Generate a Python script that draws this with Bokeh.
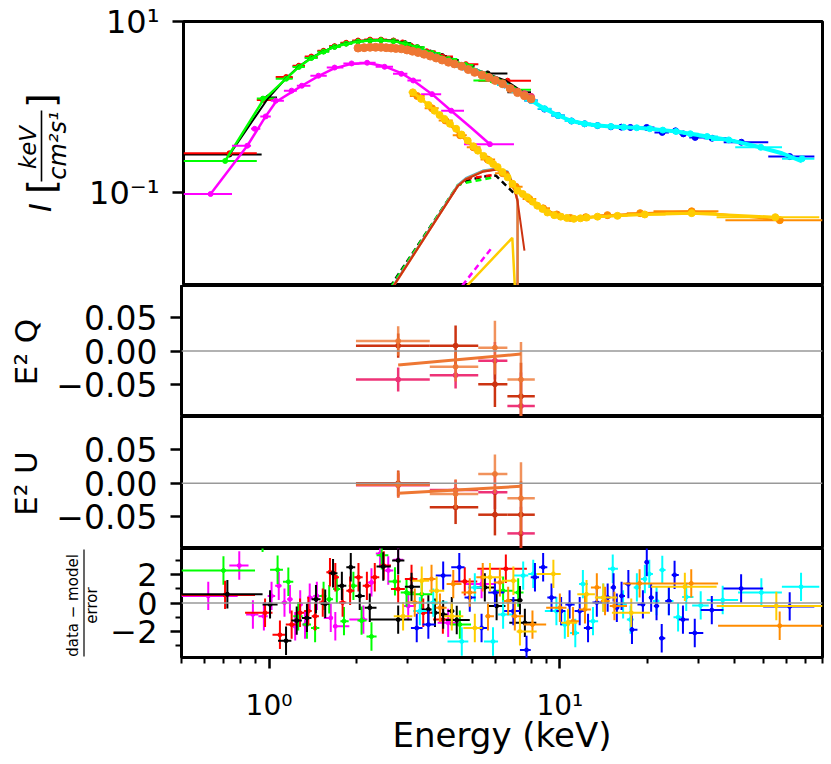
import numpy as np
from math import pi
from bokeh.plotting import figure
from bokeh.layouts import column, row
from bokeh.models import Range1d, FixedTicker, CustomJSTickFormatter, Span
from bokeh.core.properties import value
from bokeh.embed import file_html
from bokeh.resources import INLINE

FONT = "DejaVu Sans"

# ---------------- spectrum panel data ----------------
E_blk = [0.72, 0.98, 1.13, 1.25, 1.38, 1.52, 1.66, 1.82, 2.0, 2.2, 2.4, 2.65, 2.9, 3.2, 3.55, 3.9, 4.2, 4.7, 5.6, 7.3]
I_blk = [0.28, 1.3, 2.2, 3.0, 3.8, 4.5, 5.1, 5.55, 5.9, 6.05, 6.1, 5.95, 5.6, 5.0, 4.35, 3.95, 3.55, 3.05, 2.48, 1.49]
edges_blk = [0.5, 0.93, 1.05, 1.19, 1.31, 1.45, 1.59, 1.74, 1.91, 2.1, 2.3, 2.52, 2.77, 3.05, 3.37, 3.72, 4.05, 4.45, 5.05, 6.55, 7.9]

E_red = [0.72, 0.94, 1.13, 1.25, 1.38, 1.52, 1.66, 1.82, 2.0, 2.2, 2.4, 2.65, 2.85, 3.05, 3.45, 3.9, 4.71, 6.56]
I_red = [0.29, 1.21, 2.25, 3.05, 3.9, 4.55, 5.15, 5.65, 6.0, 6.15, 6.15, 6.0, 5.7, 5.2, 4.5, 3.9, 3.18, 2.04]
edges_red = [0.5, 0.895, 1.04, 1.19, 1.31, 1.45, 1.59, 1.74, 1.91, 2.1, 2.3, 2.52, 2.75, 2.95, 3.25, 3.7, 4.25, 5.2, 7.9]

E_grn = [0.696, 0.94, 1.13, 1.25, 1.38, 1.52, 1.66, 1.82, 2.0, 2.2, 2.4, 2.65, 2.9, 3.2, 3.6, 4.1, 4.7, 5.8, 7.0]
I_grn = [0.236, 1.26, 2.15, 2.95, 3.75, 4.45, 5.05, 5.5, 5.85, 6.0, 6.05, 5.9, 5.55, 5.0, 4.3, 3.65, 3.1, 2.05, 1.6]
edges_grn = [0.5, 0.895, 1.04, 1.19, 1.31, 1.45, 1.59, 1.74, 1.91, 2.1, 2.3, 2.52, 2.77, 3.05, 3.4, 3.85, 4.4, 5.0, 6.5, 7.9]

E_mod_blk = [0.72, 0.98, 1.13, 1.25, 1.38, 1.52, 1.66, 1.82, 2.0, 2.2, 2.4, 2.65, 2.9, 3.2, 3.55, 3.9, 4.2, 4.7, 5.6, 6.5, 7.3, 7.9]
I_mod_blk = [0.28, 1.28, 2.18, 2.98, 3.78, 4.48, 5.08, 5.55, 5.9, 6.05, 6.08, 5.95, 5.6, 5.0, 4.38, 3.92, 3.55, 3.05, 2.45, 2.02, 1.55, 1.3]
E_mod_grn = [0.696, 0.94, 1.13, 1.25, 1.38, 1.52, 1.66, 1.82, 2.0, 2.2, 2.4, 2.65, 2.9, 3.2, 3.6, 4.1, 4.7, 5.8, 7.0, 7.9]
I_mod_grn = [0.236, 1.2, 2.15, 2.95, 3.75, 4.45, 5.05, 5.5, 5.85, 6.0, 6.05, 5.9, 5.55, 5.0, 4.3, 3.65, 3.1, 2.3, 1.65, 1.35]

E_mag = [0.62, 0.83, 0.88, 0.96, 1.04, 1.18, 1.28, 1.46, 1.66, 1.9, 2.15, 2.47, 2.82, 3.1, 3.6, 4.19, 5.7]
I_mag = [0.097, 0.355, 0.56, 0.78, 1.19, 1.56, 1.78, 2.33, 2.9, 3.24, 3.3, 2.96, 2.45, 2.05, 1.42, 0.91, 0.37]
edges_mag = [0.5, 0.735, 0.855, 0.92, 1.0, 1.11, 1.23, 1.37, 1.56, 1.78, 2.02, 2.3, 2.64, 2.96, 3.3, 3.87, 4.64, 6.9]
E_mag_line = [0.62, 0.83, 0.96, 1.04, 1.18, 1.28, 1.46, 1.66, 1.9, 2.15, 2.47, 2.82, 3.1, 3.6, 4.19, 4.9, 5.7]
I_mag_line = [0.097, 0.355, 0.78, 1.15, 1.5, 1.78, 2.3, 2.85, 3.2, 3.28, 3.0, 2.5, 2.05, 1.42, 0.91, 0.58, 0.37]

E_ix = [2.0, 2.1, 2.2, 2.3, 2.4, 2.5, 2.6, 2.7, 2.82, 2.95, 3.08, 3.22, 3.38, 3.55, 3.72, 3.9, 4.1, 4.3, 4.55, 4.8,
        5.05, 5.35, 5.65, 5.95, 6.3, 6.7, 7.1, 7.5, 7.9]
I_ix = [4.9, 4.95, 5.0, 5.0, 5.0, 4.95, 4.9, 4.85, 4.8, 4.65, 4.5, 4.35, 4.15, 3.95, 3.75, 3.55, 3.35, 3.2, 3.0, 2.75,
        2.55, 2.38, 2.22, 2.05, 1.88, 1.65, 1.48, 1.36, 1.25]
E_ix3 = [7.1, 7.5, 7.9]
I_ix3 = [1.52, 1.42, 1.32]

E_nuA = [3.3, 3.7, 4.1, 4.6, 5.1, 5.7, 6.4, 7.1, 7.9, 8.8, 9.8, 10.9, 12.1, 13.4, 14.9, 16.2, 17.4, 19.8, 22.4, 24.9,
         26.5, 29.1, 33.3, 42.0, 61.7]
I_nuA = [4.3, 3.85, 3.4, 2.95, 2.6, 2.2, 1.82, 1.5, 1.2, 0.95, 0.8, 0.69, 0.64, 0.61, 0.59, 0.585, 0.58, 0.58, 0.508, 0.53,
         0.488, 0.444, 0.434, 0.39, 0.265]
wide_nuA = {23: (36.5, 52.0), 24: (52.0, 75.0)}

E_nuB = [3.3, 3.7, 4.1, 4.6, 5.1, 5.7, 6.4, 7.1, 7.9, 8.8, 9.8, 10.9, 12.1, 13.4, 14.9, 16.5, 18.3, 20.3, 22.5, 25.0,
         28.0, 32.0, 38.0, 49.0, 68.0]
I_nuB = [4.3, 3.85, 3.4, 2.95, 2.6, 2.2, 1.82, 1.5, 1.2, 0.96, 0.8, 0.69, 0.64, 0.61, 0.595, 0.585, 0.575, 0.56, 0.54, 0.52,
         0.49, 0.455, 0.415, 0.34, 0.25]
wide_nuB = {22: (33.0, 40.0), 23: (40.0, 58.0), 24: (58.0, 75.0)}
E_nuB_mod = [3.3, 3.7, 4.1, 4.6, 5.1, 5.7, 6.4, 7.1, 7.9, 8.8, 9.8, 10.9, 12.1, 13.4, 14.9, 16.5, 18.3, 20.3, 22.5, 25.0,
             28.0, 32.0, 38.0, 48.0, 58.0, 68.0]
I_nuB_mod = [4.3, 3.85, 3.4, 2.95, 2.6, 2.2, 1.82, 1.5, 1.2, 0.96, 0.8, 0.69, 0.64, 0.61, 0.595, 0.585, 0.575, 0.56, 0.54, 0.52,
             0.49, 0.455, 0.415, 0.345, 0.29, 0.233]

E_gold = [3.09, 3.3, 3.5, 3.67, 3.82, 3.97, 4.15, 4.36, 4.55, 4.78, 5.0, 5.18, 5.42, 5.67, 5.85, 6.06, 6.3, 6.56, 6.82, 7.1,
          7.4, 7.68, 8.0, 8.3, 8.65, 9.0, 9.5, 10.0, 10.5, 11.1, 11.7, 12.3, 13.4, 15.7, 19.5, 28.3, 55.0]
I_gold = [1.49, 1.25, 1.06, 0.91, 0.81, 0.73, 0.64, 0.56, 0.48, 0.407, 0.35, 0.311, 0.27, 0.238, 0.218, 0.2, 0.175, 0.152, 0.128, 0.106,
          0.097, 0.089, 0.079, 0.071, 0.065, 0.059, 0.055, 0.0528, 0.051, 0.0498, 0.0505, 0.0515, 0.0528, 0.054, 0.056, 0.058, 0.052]
wide_gold = {33: (14.5, 17.0), 34: (17.0, 23.0), 35: (23.0, 34.5), 36: (34.5, 78.0)}

E_org = [3.2, 3.6, 4.0, 4.5, 5.0, 5.6, 6.3, 7.0, 7.8, 8.7, 9.7, 10.8, 12.2, 14.5, 18.8, 28.3, 57.0]
I_org = [1.35, 0.97, 0.7, 0.47, 0.34, 0.245, 0.17, 0.118, 0.085, 0.066, 0.056, 0.051, 0.052, 0.055, 0.058, 0.061, 0.048]
wide_org = {14: (16.9, 20.9), 15: (20.9, 35.0), 16: (37.0, 80.0)}

# model components
hump_E_or = [2.64, 4.42, 4.71, 5.38, 5.98, 6.56, 6.92, 7.1, 7.1]
hump_I_or = [0.008, 0.1216, 0.1456, 0.1786, 0.1887, 0.174, 0.1127, 0.0812, 0.005]
hump_I_cy = [0.0082, 0.124, 0.149, 0.182, 0.193, 0.178, 0.115, 0.083, 0.005]
hump_E_rd = [2.64, 4.42, 4.71, 5.38, 5.98, 6.56, 6.92, 7.1, 7.5]
hump_I_rd = [0.008, 0.12, 0.144, 0.176, 0.186, 0.172, 0.112, 0.08, 0.0212]
hump_E_bk = [2.58, 4.42, 4.8, 5.4, 5.98, 6.92]
hump_I_bk = [0.008, 0.122, 0.14, 0.155, 0.159, 0.098]
hump_E_gn = [2.6, 4.42, 4.71, 5.9]
hump_I_gn = [0.008, 0.124, 0.1316, 0.152]
hump_E_rdd = [4.71, 5.9]
hump_I_rdd = [0.146, 0.162]
edge_E_mg = [4.58, 5.75]
edge_I_mg = [0.0083, 0.0223]
edge_E_yl = [4.76, 6.81, 7.0]
edge_I_yl = [0.0083, 0.0299, 0.005]

# ---------------- polarisation panels ----------------
qu_E = [2.78, 4.38, 5.98, 7.35]
qu_lo = [1.99, 3.57, 5.24, 6.6]
qu_hi = [3.57, 5.24, 6.6, 8.2]
Q_du1 = [0.015, -0.0235, 0.005, -0.0425]
Qerr_du1 = [0.022, 0.022, 0.04, 0.056]
Q_du2 = [0.008, 0.008, -0.0495, -0.0675]
Qerr_du2 = [0.018, 0.03, 0.034, 0.05]
Q_du3 = [-0.0425, -0.036, -0.0145, -0.082]
Qerr_du3 = [0.018, 0.02, 0.028, 0.05]
U_du1 = [-0.002, -0.016, 0.014, -0.0225]
Uerr_du1 = [0.02, 0.022, 0.029, 0.054]
U_du2 = [0.0, -0.036, -0.047, -0.047]
Uerr_du2 = [0.019, 0.025, 0.031, 0.05]
U_du3 = [-0.003, -0.01, -0.0135, -0.075]
Uerr_du3 = [0.018, 0.015, 0.025, 0.04]
qu_model_E = [2.78, 7.35]
Q_model = [-0.021, -0.0045]
U_model = [-0.015, -0.0045]

# ---------------- residuals ----------------
res_blk_E = [0.719, 1.008, 1.144, 1.245, 1.35, 1.45, 1.56, 1.66, 1.78, 1.91, 2.05, 2.22, 2.47, 2.78, 2.78,
             3.09, 3.53, 3.72, 3.97, 4.25, 4.42, 5.52, 6.06, 7.29, 7.58]
res_blk_R = [0.62, -0.1, -2.66, -1.24, -1.05, 0.26, -0.05, 2.1, 1.21, 2.52, 0.5, -0.33, 2.57, 3.0, -1.17,
             1.14, -0.45, -0.69, -0.81, -0.57, -1.2, 1.1, -0.21, 0.19, -1.4]
res_blk_wide = {0: (0.5, 0.95), 1: (0.95, 1.07), 13: (2.65, 2.92), 14: (2.22, 3.1), 20: (4.05, 4.9),
                21: (5.05, 6.0), 22: (5.7, 6.5), 24: (6.7, 8.3)}
res_red_E = [0.706, 0.969, 1.09, 1.196, 1.278, 1.365, 1.44, 1.53, 1.62, 1.69, 1.79, 1.90, 2.03, 2.17, 2.31,
             2.48, 2.78, 3.09, 3.39, 3.96, 4.71, 6.52]
res_red_R = [0.57, -0.69, -2.24, -1.52, -0.69, -0.57, -0.93, 0.03, 2.17, 1.81, 0.03, 0.86, 1.81, 1.21, 1.81,
             2.64, 0.98, 1.69, -0.69, -1.17, 1.52, 2.41]
res_red_wide = {0: (0.5, 0.895), 20: (4.25, 5.2), 21: (5.2, 7.7)}
res_grn_E = [0.697, 0.95, 1.07, 1.165, 1.26, 1.35, 1.44, 1.54, 1.61, 1.71, 1.81, 1.95, 2.08, 2.25, 2.44,
             2.71, 2.97, 3.35, 4.53, 6.38, 7.19]
res_grn_R = [2.29, 4.6, 2.34, 1.5, -0.93, -1.52, -1.76, 0.5, 0.26, 0.98, -1.28, 1.21, -1.24, -2.36, 3.36,
             1.52, 0.74, 0.62, -1.52, 0.86, 0.74]
res_grn_wide = {0: (0.5, 0.895), 17: (2.95, 3.65), 18: (4.2, 4.95), 19: (5.9, 6.9), 20: (6.9, 7.5)}
res_mag_E = [0.618, 0.79, 0.88, 0.96, 1.02, 1.08, 1.13, 1.18, 1.23, 1.28, 1.33, 1.38, 1.46, 1.63, 1.69,
             2.11, 2.25, 2.41, 2.57, 2.78, 3.01, 4.13, 5.38]
res_mag_R = [0.5, 2.64, -0.81, -0.93, 0.5, 1.21, 0.03, 0.26, -1.64, -0.1, -1.52, 0.38, 0.5, -1.05, -1.64,
             -1.17, 1.45, 3.48, 2.29, 3.05, -0.21, -1.4, 1.33]
res_mag_wide = {0: (0.5, 0.78), 1: (0.73, 0.85), 20: (2.9, 3.2), 21: (3.8, 4.5), 22: (4.7, 6.0)}
res_org_E = [3.17, 3.62, 3.87, 4.30, 4.90, 5.43, 5.66, 6.22, 6.64, 7.0, 8.05, 10.0, 11.1, 12.2, 13.4,
             14.3, 15.4, 18.8, 28.3, 57.0]
res_org_R = [0.03, 1.69, -0.33, 1.33, 0.74, 1.81, -0.93, 1.45, 0.14, -0.93, -1.52, -0.33, -1.28, -0.45, 1.1,
             0.14, -0.21, 1.38, 1.38, -1.6]
res_org_wide = {17: (16.5, 20.3), 18: (20.3, 35.0), 19: (35.0, 80.0)}
res_gold_E = [2.89, 3.35, 3.77, 4.25, 5.1, 5.75, 6.92, 7.29, 9.5, 10.67, 12.35, 14.1, 17.6, 26.9, 55.5]
res_gold_R = [-0.93, 1.57, 0.86, -0.93, -1.76, 1.81, 1.57, -2.0, 2.05, -1.4, 0.62, 0.38, -0.69, 1.14, -0.21]
res_gold_wide = {12: (15.1, 20.4), 13: (20.6, 34.6), 14: (34.6, 80.0)}
res_blu_E = [3.22, 3.53, 3.97, 4.51, 4.90, 5.38, 5.98, 6.92, 7.68, 8.21, 8.76, 9.36, 10.1, 10.8, 11.7,
             12.5, 13.4, 14.6, 15.3, 15.7, 16.3, 17.2, 17.7, 19.3, 19.9, 20.6, 21.5, 22.4, 23.7, 24.8,
             26.5, 29.1, 33.3, 42.0, 61.7]
res_blu_R = [-1.76, -1.52, 1.93, 2.52, 0.38, -1.76, 0.74, -0.57, -3.31, 1.81, 2.52, 0.38, -0.57, -0.1, -0.57,
             -1.76, 0.03, 0.38, 1.1, -0.33, 0.5, 1.33, -1.88, -0.1, 2.88, 0.38, -0.21, -2.48, 0.14, 1.98,
             -1.17, -2.11, -0.5, 1.02, -0.24]
res_blu_wide = {32: (30.5, 36.5), 33: (36.5, 50.0), 34: (50.0, 75.0)}
res_cyn_E = [3.30, 3.67, 4.60, 5.1, 5.89, 6.38, 7.48, 8.1, 9.73, 10.4, 11.3, 12.0, 13.0, 14.1, 15.2,
             16.5, 17.5, 18.4, 19.6, 20.3, 21.5, 22.5, 23.7, 25.5, 27.2, 30.5, 36.3, 49.3, 67.5]
res_cyn_R = [-0.57, 0.03, -2.71, 1.1, -2.71, -0.81, 1.93, 2.05, -0.57, -1.52, -2.11, 1.33, -1.28, 0.38, 2.41,
             -0.1, -1.17, 1.1, 1.69, 2.05, 0.14, 2.33, 0.14, -1.0, 0.43, -0.17, 0.21, 0.74, 1.14]
res_cyn_wide = {25: (28.5, 32.5), 26: (32.0, 41.0), 27: (41.0, 58.0), 28: (58.0, 78.0)}

x_major = [1, 10]
x_minor = [0.5, 0.6, 0.7, 0.8, 0.9, 2, 3, 4, 5, 6, 7, 8, 9, 20, 30, 40, 50, 60, 70, 80]

C_BLK, C_RED, C_GRN, C_MAG = "#000000", "#ff0000", "#00ff00", "#ff00ff"
C_BLU, C_CYN, C_ORG, C_GLD = "#0000ff", "#00ffff", "#ff8c00", "#ffcc00"
T_OR, T_RD, T_PK, T_CY = "#EE7733", "#CC3311", "#EE3377", "#33BBEE"


def mid_edges(E, wide=None):
    E = np.asarray(E, float)
    m = np.sqrt(E[:-1] * E[1:])
    lo = np.concatenate([[E[0] ** 2 / m[0]], m])
    hi = np.concatenate([m, [E[-1] ** 2 / m[-1]]])
    for i, (a, b) in (wide or {}).items():
        lo[i], hi[i] = a, b
    return list(lo), list(hi)


def xbars(p, E, Y, lo, hi, color, lw=2, size=4, alpha=1.0):
    p.segment(x0=lo, y0=Y, x1=hi, y1=Y, line_color=color, line_width=lw, line_alpha=alpha)
    p.scatter(E, Y, size=size, color=color, alpha=alpha)


def xybars(p, E, Y, lo, hi, ylo, yhi, color, lw=2, size=4, alpha=1.0):
    p.segment(x0=E, y0=ylo, x1=E, y1=yhi, line_color=color, line_width=lw, line_alpha=alpha)
    xbars(p, E, Y, lo, hi, color, lw, size, alpha)


def style(p):
    p.outline_line_color = "black"
    p.outline_line_width = 3
    p.grid.visible = False
    p.background_fill_color = "white"
    p.border_fill_color = "white"


def style_axis(ax, size, standoff):
    ax.axis_line_color = None
    ax.major_tick_line_color = "black"
    ax.minor_tick_line_color = "black"
    ax.major_tick_line_width = 2.5
    ax.major_tick_out = 11
    ax.major_tick_in = 0
    ax.minor_tick_line_width = 2
    ax.minor_tick_out = 6
    ax.minor_tick_in = 0
    ax.major_label_text_font = FONT
    ax.major_label_text_font_size = f"{size}px"
    ax.major_label_text_color = "black"
    ax.axis_label_text_color = "black"
    ax.major_label_standoff = standoff


pow_fmt = CustomJSTickFormatter(code="""
const sup = {"-": "\u207b", "0": "\u2070", "1": "\u00b9", "2": "\u00b2", "3": "\u00b3",
             "4": "\u2074", "5": "\u2075", "6": "\u2076", "7": "\u2077", "8": "\u2078", "9": "\u2079"};
const e = Math.round(Math.log10(tick));
return "10" + String(e).split("").map(c => sup[c]).join("");
""")
fmt2 = CustomJSTickFormatter(code="""return (tick < -1e-9 ? "\u2212" : "") + Math.abs(tick).toFixed(2);""")
fmt0 = CustomJSTickFormatter(code="""return (tick < -1e-9 ? "\u2212" : "") + Math.abs(tick).toFixed(0);""")

TOTAL_W = 826
FRAME_L = 181
FRAME_R = 822
xr = Range1d(0.5, 80)


def main_fig(lab_w, height, **kw):
    return figure(width=TOTAL_W - lab_w, height=height, x_range=xr, x_axis_type="log",
                  output_backend="svg", toolbar_location=None,
                  min_border_left=FRAME_L - lab_w, min_border_right=TOTAL_W - FRAME_R, **kw)


def label_fig(w, h, frame_h):
    # its frame gets aligned with the neighbouring panel's frame, so map data units to frame pixels
    f = figure(width=w, height=h, x_range=Range1d(0, w), y_range=Range1d(0, frame_h),
               x_axis_location=None, y_axis_location=None, output_backend="svg",
               toolbar_location=None, min_border=0)
    f.outline_line_color = None
    f.grid.visible = False
    return f


def txt(f, x, y, text, size, fstyle="normal"):
    f.text(x=[x], y=[y], text=[text], angle=pi / 2, text_align="center", text_baseline="middle",
           text_font=value(FONT), text_font_size=value(f"{size}px"), text_font_style=value(fstyle),
           text_color="black")


# ---------------- panel 1: spectrum ----------------
LW1, H1 = 86, 285
FB1, FH1 = 285, 264   # screen y of frame bottom, frame height
p1 = main_fig(LW1, H1, y_axis_type="log", y_range=Range1d(0.0083, 10), x_axis_location=None,
              min_border_top=21, min_border_bottom=0)
style(p1)
style_axis(p1.yaxis[0], 32, 13)
p1.yaxis.ticker = FixedTicker(ticks=[0.1, 10], minor_ticks=[])
p1.yaxis.formatter = pow_fmt

xbars(p1, E_blk, I_blk, edges_blk[:-1], edges_blk[1:], C_BLK, size=5)
xbars(p1, E_red, I_red, edges_red[:-1], edges_red[1:], C_RED, size=5)
xbars(p1, E_grn, I_grn, edges_grn[:-1], edges_grn[1:], C_GRN, size=5)
p1.line(E_mod_blk, I_mod_blk, line_color=C_BLK, line_width=2)
p1.line(E_mod_grn, I_mod_grn, line_color=C_GRN, line_width=2.5)
xbars(p1, E_mag, I_mag, edges_mag[:-1], edges_mag[1:], C_MAG, size=5)
p1.line(E_mag_line, I_mag_line, line_color=C_MAG, line_width=2.5)

lo, hi = mid_edges(E_nuA, wide_nuA)
xbars(p1, E_nuA, I_nuA, lo, hi, C_BLU, size=6)
p1.line(E_nuB_mod, I_nuB_mod, line_color=C_CYN, line_width=4)
lo, hi = mid_edges(E_nuB, wide_nuB)
xbars(p1, E_nuB, I_nuB, lo, hi, C_CYN, size=6)

p1.scatter(E_ix3, I_ix3, size=7, color=T_PK)
p1.line(E_ix, I_ix, line_color=T_OR, line_width=4)
p1.scatter(E_ix, I_ix, size=8, color=T_OR)

p1.line(hump_E_bk, hump_I_bk, line_color=C_BLK, line_width=2.5, line_dash="6 4")
p1.line(hump_E_gn, hump_I_gn, line_color=C_GRN, line_width=2.5, line_dash="6 4")
p1.line(hump_E_rdd, hump_I_rdd, line_color=C_RED, line_width=2.5, line_dash="6 4")
p1.line(hump_E_or, hump_I_cy, line_color=T_CY, line_width=2)
p1.line(hump_E_or, hump_I_or, line_color=T_OR, line_width=2.5)
p1.line(hump_E_rd, hump_I_rd, line_color=T_RD, line_width=2)
p1.line(edge_E_mg, edge_I_mg, line_color=C_MAG, line_width=2.5, line_dash="6 4")
p1.line(edge_E_yl, edge_I_yl, line_color=C_GLD, line_width=2.5)

lo, hi = mid_edges(E_org, wide_org)
xbars(p1, E_org, I_org, lo, hi, C_ORG, size=7)
p1.line(E_org, I_org, line_color=C_ORG, line_width=2)
lo, hi = mid_edges(E_gold, wide_gold)
xbars(p1, E_gold, I_gold, lo, hi, C_GLD, size=7)
p1.line(E_gold, I_gold, line_color=C_GLD, line_width=3)

l1 = label_fig(LW1, H1, FH1)
txt(l1, 40, FB1 - 207, "I", 30, "italic")
txt(l1, 40, FB1 - 186, "[", 38)
txt(l1, 40, FB1 - 100, "]", 38)
txt(l1, 27, FB1 - 147, "keV", 23, "italic")
txt(l1, 57, FB1 - 145, "cm\u00b2s\u00b9", 24, "italic")
l1.segment(x0=[41], y0=[FB1 - 181], x1=[41], y1=[FB1 - 110], line_color="black", line_width=1.6)


# ---------------- panels 2/3: Q and U ----------------
LW2 = 50


def qu_panel(height, yr, Y1, E1, Y2, E2, Y3, E3, Ym, label):
    p = main_fig(LW2, height, y_range=Range1d(*yr), x_axis_location=None,
                 min_border_top=0, min_border_bottom=0)
    style(p)
    style_axis(p.yaxis[0], 33, 13)
    p.yaxis.ticker = FixedTicker(ticks=[-0.05, 0.0, 0.05], minor_ticks=[])
    p.yaxis.formatter = fmt2
    p.add_layout(Span(location=0, dimension="width", line_color="#999999", line_width=1.5))
    for Y, Er, col, al in ((Y3, E3, T_PK, 1.0), (Y2, E2, T_RD, 1.0), (Y1, E1, T_OR, 0.8)):
        ylo = [y - e for y, e in zip(Y, Er)]
        yhi = [y + e for y, e in zip(Y, Er)]
        xybars(p, qu_E, Y, qu_lo, qu_hi, ylo, yhi, col, lw=2.5, size=5, alpha=al)
    p.line(qu_model_E, Ym, line_color=T_OR, line_width=3)
    lf = label_fig(LW2, height, height)
    txt(lf, 25, height / 2 - 1, label, 31)
    return lf, p


l2, p2 = qu_panel(131, (-0.0976, 0.0976), Q_du1, Qerr_du1, Q_du2, Qerr_du2, Q_du3, Qerr_du3, Q_model, "E\u00b2 Q")
l3, p3 = qu_panel(132, (-0.0976, 0.1), U_du1, Uerr_du1, U_du2, Uerr_du2, U_du3, Uerr_du3, U_model, "E\u00b2 U")

# ---------------- panel 4: residuals ----------------
LW4, H4 = 104, 214
FB4, FH4 = 657, 109
p4 = main_fig(LW4, H4, y_range=Range1d(-3.84, 3.84), min_border_top=0, min_border_bottom=105)
style(p4)
style_axis(p4.yaxis[0], 32, 13)
style_axis(p4.xaxis[0], 28, 20)
p4.yaxis.ticker = FixedTicker(ticks=[-2, 0, 2], minor_ticks=[-3, -1, 1, 3])
p4.yaxis.formatter = fmt0
p4.xaxis.ticker = FixedTicker(ticks=x_major, minor_ticks=x_minor)
p4.xaxis.formatter = pow_fmt
p4.xaxis.axis_label = "Energy (keV)"
p4.xaxis.axis_label_text_font = FONT
p4.xaxis.axis_label_text_font_size = "34px"
p4.xaxis.axis_label_text_font_style = "normal"
p4.xaxis.axis_label_standoff = -10
p4.add_layout(Span(location=0, dimension="width", line_color="#999999", line_width=1.5))

for E, R, wide, col in ((res_mag_E, res_mag_R, res_mag_wide, C_MAG),
                        (res_grn_E, res_grn_R, res_grn_wide, C_GRN),
                        (res_red_E, res_red_R, res_red_wide, C_RED),
                        (res_blk_E, res_blk_R, res_blk_wide, C_BLK),
                        (res_cyn_E, res_cyn_R, res_cyn_wide, C_CYN),
                        (res_blu_E, res_blu_R, res_blu_wide, C_BLU),
                        (res_org_E, res_org_R, res_org_wide, C_ORG),
                        (res_gold_E, res_gold_R, res_gold_wide, C_GLD)):
    lo, hi = mid_edges(E, wide)
    xybars(p4, E, R, lo, hi, [r - 1 for r in R], [r + 1 for r in R], col, lw=2, size=4)

l4 = label_fig(LW4, H4, FH4)
txt(l4, 72.5, FB4 - 605, "data \u2212 model", 15)
txt(l4, 91.5, FB4 - 605, "error", 15)
l4.segment(x0=[83.5], y0=[FB4 - 656], x1=[83.5], y1=[FB4 - 549], line_color="black", line_width=1.2)

layout = column(row(l1, p1, spacing=0), row(l2, p2, spacing=0), row(l3, p3, spacing=0),
                row(l4, p4, spacing=0), spacing=0)
open("out.html", "w").write(file_html(layout, INLINE, "spectrum"))
